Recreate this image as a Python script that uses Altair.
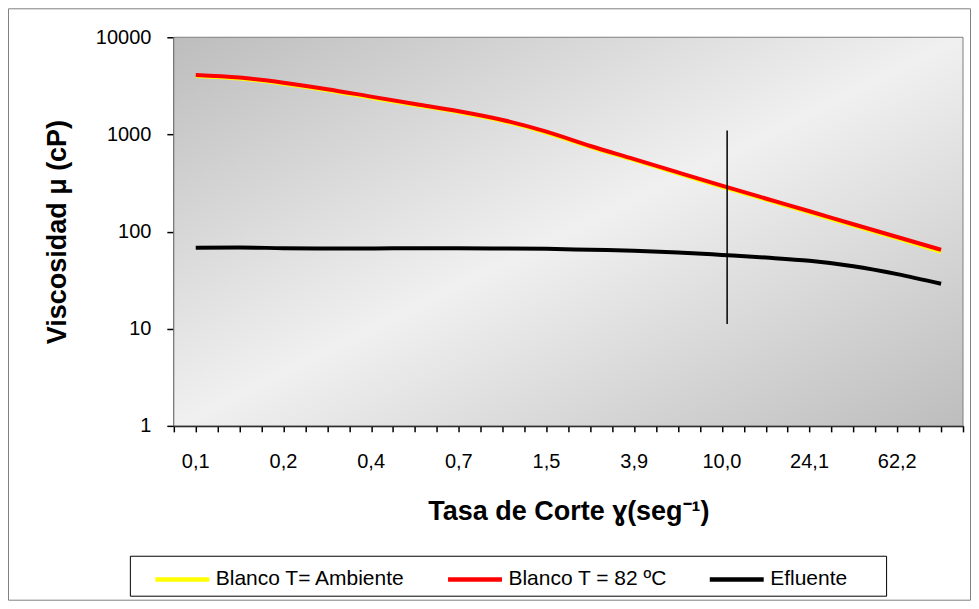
import altair as alt
import pandas as pd

# ---- data ----
categories = ["0,1", "0,15", "0,2", "0,3", "0,4", "0,5", "0,7", "1,0", "1,5",
              "2,4", "3,9", "6,2", "10,0", "15,5", "24,1", "38,7", "62,2", "100,0"]
blanco_amb = [4000, 3760, 3330, 2850, 2390, 2010, 1690, 1375, 1040,
              740, 543, 396, 289, 213, 157, 115, 85, 62]
blanco_82 = [4090, 3850, 3410, 2920, 2450, 2060, 1735, 1410, 1070,
             760, 557, 406, 297, 219, 162, 119, 88, 65]
efluente = [68, 68.5, 67.5, 67, 67, 67.5, 67.5, 67, 66.5,
            65, 63.5, 61, 57.5, 54, 50, 44, 36.5, 29]
series_names = ["Blanco T= Ambiente", "Blanco T = 82 ºC", "Efluente"]
series_colors = ["#ffff00", "#ff0000", "#000000"]
marker_x = [12.12]          # vertical marker position (category index)
marker_top = [1100]
marker_bottom = [11.2]
y_ticks = [1, 10, 100, 1000, 10000]

rows = []
for i, c in enumerate(categories):
    rows.append({"idx": i, "cat": c, "serie": series_names[0], "v": blanco_amb[i], "so": 0})
    rows.append({"idx": i, "cat": c, "serie": series_names[1], "v": blanco_82[i], "so": 1})
    rows.append({"idx": i, "cat": c, "serie": series_names[2], "v": efluente[i], "so": 2})
df = pd.DataFrame(rows)

# every second category carries a label, as in the reference
lab_df = pd.DataFrame({"idx": [i for i in range(len(categories) - 1) if i % 2 == 0],
                       "cat": [categories[i] for i in range(len(categories) - 1) if i % 2 == 0]})

W, H = 790, 389
FONT = "Liberation Sans"

x_tick_vals = [i * 0.5 - 0.5 for i in range(2 * len(categories) + 1)]
x_scale = alt.Scale(domain=[-0.5, len(categories) - 0.5], nice=False, zero=False)
y_scale = alt.Scale(type="log", domain=[1, 10000], nice=False)

x_axis = alt.Axis(values=x_tick_vals, labels=False, grid=False,
                  domainColor="black", domainWidth=2,
                  tickColor="black", tickWidth=1.5, tickSize=6,
                  title="Tasa de Corte ɣ(seg⁻¹)", titleFont=FONT,
                  titleFontSize=27, titleFontWeight="bold", titleColor="black",
                  titlePadding=66)
y_axis = alt.Axis(values=y_ticks, format="d", grid=False, domainColor="black",
                  domainWidth=2, tickColor="black", tickWidth=1.5, tickSize=7,
                  labelFont=FONT, labelFontSize=20, labelColor="black",
                  labelPadding=16,
                  title="Viscosidad μ (cP)", titleFont=FONT, titleFontSize=27,
                  titleFontWeight="bold", titleColor="black", titlePadding=24)

lines = alt.Chart(df).mark_line(interpolate="monotone", strokeWidth=4).encode(
    x=alt.X("idx:Q", scale=x_scale, axis=x_axis),
    y=alt.Y("v:Q", scale=y_scale, axis=y_axis),
    color=alt.Color("serie:N",
                    scale=alt.Scale(domain=series_names, range=series_colors),
                    sort=series_names,
                    legend=alt.Legend(title=None, orient="none", direction="horizontal",
                                      legendX=-21, legendY=513,
                                      symbolType="stroke", symbolSize=2916,
                                      symbolStrokeWidth=4.5, labelFont=FONT,
                                      labelFontSize=21, labelColor="black",
                                      labelOffset=4, columnPadding=33, padding=0,
                                      labelLimit=400)),
    order=alt.Order("so:Q"),
)

x_labels = alt.Chart(lab_df).mark_text(font=FONT, fontSize=20, color="black",
                                       baseline="middle", align="center").encode(
    x=alt.X("idx:Q", scale=x_scale, axis=x_axis),
    y=alt.value(H + 36),
    text="cat:N")

marker_df = pd.DataFrame({"x": marker_x, "top": marker_top, "bottom": marker_bottom})
marker = alt.Chart(marker_df).mark_rule(color="black", strokeWidth=1.5).encode(
    x=alt.X("x:Q", scale=x_scale, axis=x_axis),
    y=alt.Y("top:Q", scale=y_scale, axis=y_axis), y2="bottom:Q")

one = pd.DataFrame({"a": [0]})
grad = alt.LinearGradient(gradient="linear", x1=0, y1=0, x2=1, y2=1,
                          stops=[alt.GradientStop(offset=0, color="#bdbdbd"),
                                 alt.GradientStop(offset=0.5, color="#f0f0f0"),
                                 alt.GradientStop(offset=1, color="#bdbdbd")])
bg = alt.Chart(one).mark_rect(fill=grad, stroke="#808080", strokeWidth=1).encode(
    x=alt.value(0), x2=alt.value(W), y=alt.value(0), y2=alt.value(H))
frame = alt.Chart(one).mark_rect(fill=None, stroke="#808080", strokeWidth=1).encode(
    x=alt.value(-165.5), x2=alt.value(W + 7.5), y=alt.value(-28.5), y2=alt.value(H + 174.5))
legend_box = alt.Chart(one).mark_rect(fill="white", stroke="black", strokeWidth=1).encode(
    x=alt.value(-43.5), x2=alt.value(713.5), y=alt.value(519.5), y2=alt.value(559.5))

chart = alt.layer(frame, legend_box, bg, lines, marker, x_labels).properties(
    width=W, height=H,
    autosize=alt.AutoSizeParams(type="none"),
    padding={"left": 166, "top": 29, "right": 8, "bottom": 176},
    background="white",
).configure_view(stroke=None)

chart.save("out.html", embed_options={"renderer": "svg", "actions": False})
